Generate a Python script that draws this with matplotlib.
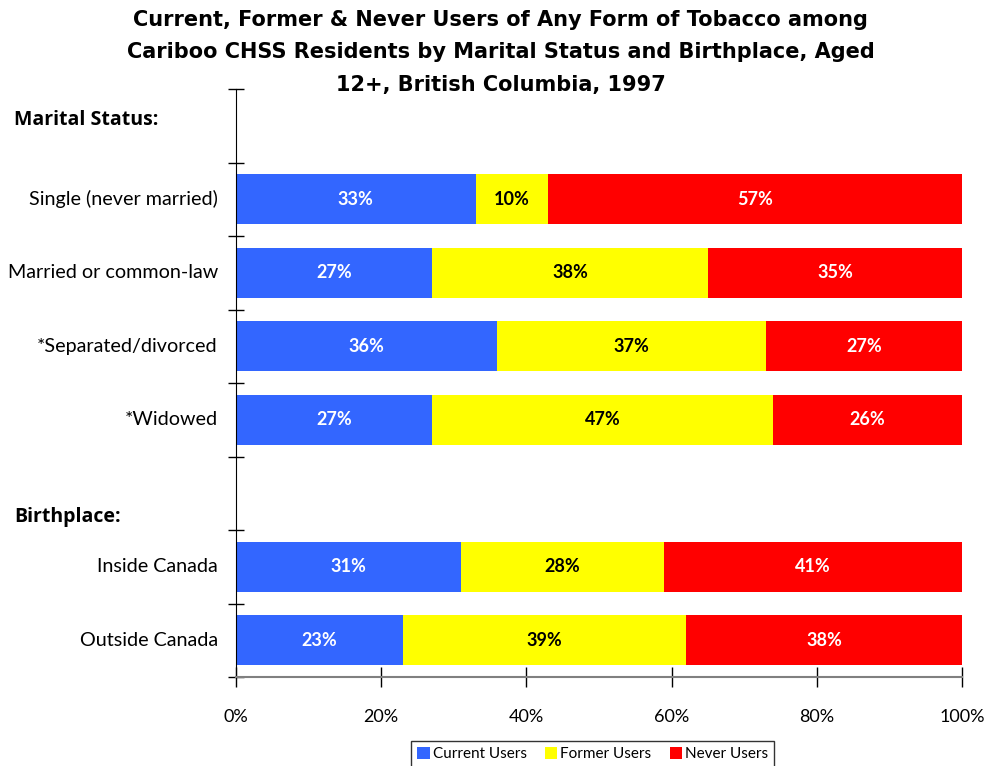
import matplotlib
matplotlib.use("Agg")
import matplotlib.pyplot as plt
from matplotlib.patches import Patch

categories = ["Single (never married)", "Married or common-law", "*Separated/divorced",
              "*Widowed", "Inside Canada", "Outside Canada"]
row_pos = [1, 2, 3, 4, 6, 7]
current = [33, 27, 36, 27, 31, 23]
former = [10, 38, 37, 47, 28, 39]
never = [57, 35, 27, 26, 41, 38]
series_names = ["Current Users", "Former Users", "Never Users"]
colors = ["#3366FF", "#FFFF00", "#FF0000"]
label_colors = ["white", "black", "white"]
headers = [("Marital Status:", -0.08), ("Birthplace:", 5.32)]
xticks = [0, 20, 40, 60, 80, 100]
title_lines = ["Current, Former & Never Users of Any Form of Tobacco among",
               "Cariboo CHSS Residents by Marital Status and Birthplace, Aged",
               "12+, British Columbia, 1997"]

plt.rcParams['font.family'] = ['Lato', 'DejaVu Sans']

fig = plt.figure(figsize=(9.88, 7.66), dpi=100)
ax = fig.add_axes([236/988, 1-677/766, (962-236)/988, (677-89)/766])

left = [0]*len(categories)
for vals, col, lc in zip([current, former, never], colors, label_colors):
    bars = ax.barh(row_pos, vals, left=left, height=0.68, color=col, edgecolor='none')
    for b, v, l in zip(bars, vals, left):
        ax.text(l + v/2, b.get_y() + b.get_height()/2, f"{v}%", ha='center', va='center',
                color=lc, fontsize=13, fontweight='bold')
    left = [a+b for a, b in zip(left, vals)]

ax.set_xlim(0, 100)
ax.set_ylim(7.5, -0.5)
ax.set_xticks(xticks)
ax.set_xticklabels([f"{t}%" for t in xticks], fontsize=13)
ax.set_yticks([i - 0.5 for i in range(9)])
ax.set_yticklabels([])
ax.tick_params(axis='y', direction='inout', length=12, width=1, color='black')
ax.tick_params(axis='x', direction='inout', length=14, width=1, color='black', pad=16)
for s in ['top', 'right']:
    ax.spines[s].set_visible(False)
ax.spines['left'].set_color('black')
ax.spines['bottom'].set_color('#808080')
ax.spines['bottom'].set_linewidth(1.5)

for c, p in zip(categories, row_pos):
    ax.text(-0.025, p, c, transform=ax.get_yaxis_transform(), ha='right', va='center', fontsize=14.2)
for h, p in headers:
    ax.text(14/988, 1 - (89 + (p + 0.5) * 73.5)/766, h, transform=fig.transFigure,
            ha='left', va='center', fontsize=14, fontweight='bold',
            family=['Open Sans', 'DejaVu Sans'])

for line, ypx in zip(title_lines, [20, 52, 85]):
    fig.text(0.507, 1 - ypx/766, line, ha='center', va='center', fontsize=15,
             fontweight='bold', family=['DejaVu Sans'])

handles = [Patch(facecolor=c, edgecolor='none') for c in colors]
leg = fig.legend(handles, series_names, loc='lower center', bbox_to_anchor=(0.6, -0.012),
                 ncol=3, frameon=True, fancybox=False, fontsize=11, handlelength=0.8,
                 handleheight=0.8, handletextpad=0.2, columnspacing=1.2, borderpad=0.4)
leg.get_frame().set_edgecolor('black')
leg.get_frame().set_linewidth(1)

fig.savefig("out.png", dpi=100)
